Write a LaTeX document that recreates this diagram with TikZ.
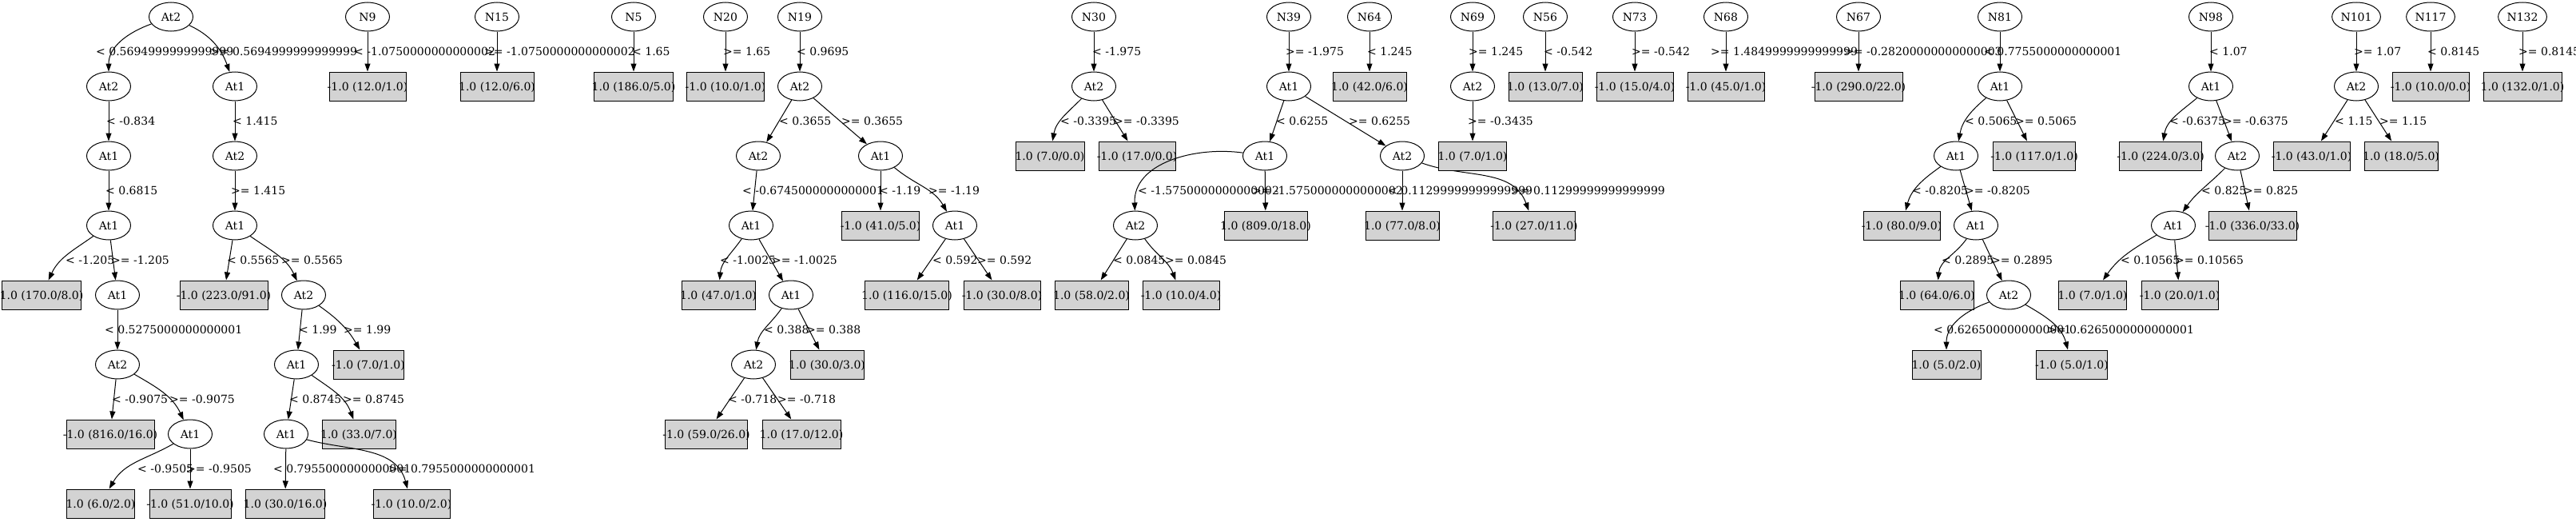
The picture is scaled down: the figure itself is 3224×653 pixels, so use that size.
\documentclass[tikz,border=0pt]{standalone}
\usepackage{fontspec}
\setmainfont{DejaVu Serif}
\usetikzlibrary{shapes.geometric,arrows.meta}
\definecolor{leafgray}{HTML}{D3D3D3}
\newcommand\leaftxt[1]{\makebox[0pt]{#1}}
\tikzset{
  ell/.style={ellipse, draw, line width=1pt, minimum width=55pt, minimum height=36pt, inner sep=2pt, text height=10pt, text depth=0pt},
  leaf/.style={rectangle, draw, line width=1pt, fill=leafgray, minimum width=#1, minimum height=36pt, inner sep=0pt, text height=10pt, text depth=0pt},
  lab/.style={anchor=west, inner sep=0pt, text height=10pt, text depth=0pt},
  conn/.style={line width=1pt, -{Triangle[length=10pt,width=7pt]}},
}
\begin{document}
\begin{tikzpicture}[x=1pt,y=-1pt,font=\fontsize{14}{16}\selectfont]
\useasboundingbox (0,0) rectangle (3224,653);
% ---------------- Tree 1
\node[ell] (a0) at (214,21) {At2};
\node[ell] (a1) at (136,108) {At2};
\node[ell] (a2) at (294,108) {At1};
\node[ell] (a3) at (136,195) {At1};
\node[ell] (a4) at (294,195) {At2};
\node[ell] (a5) at (136,282) {At1};
\node[ell] (a6) at (294,282) {At1};
\node[leaf=99pt] (l1) at (52,369) {\leaftxt{1.0 (170.0/8.0)}};
\node[ell] (a7) at (147,369) {At1};
\node[leaf=110pt] (l2) at (280,369) {\leaftxt{-1.0 (223.0/91.0)}};
\node[ell] (a8) at (380,369) {At2};
\node[ell] (a9) at (147,456) {At2};
\node[ell] (a10) at (371,456) {At1};
\node[leaf=88pt] (l3) at (461,456) {\leaftxt{-1.0 (7.0/1.0)}};
\node[leaf=110pt] (l4) at (138,543) {\leaftxt{-1.0 (816.0/16.0)}};
\node[ell] (a11) at (238,543) {At1};
\node[ell] (a12) at (358,543) {At1};
\node[leaf=92pt] (l5) at (449,543) {\leaftxt{1.0 (33.0/7.0)}};
\node[leaf=85pt] (l6) at (126,630) {\leaftxt{1.0 (6.0/2.0)}};
\node[leaf=102pt] (l7) at (238,630) {\leaftxt{-1.0 (51.0/10.0)}};
\node[leaf=99pt] (l8) at (357,630) {\leaftxt{1.0 (30.0/16.0)}};
\node[leaf=96pt] (l9) at (515,630) {\leaftxt{-1.0 (10.0/2.0)}};
\draw[conn] (a0) to[out=200,in=90] (a1);
\draw[conn] (a0) to[out=-25,in=110] (a2);
\draw[conn] (a1) -- (a3);
\draw[conn] (a2) -- (a4);
\draw[conn] (a3) -- (a5);
\draw[conn] (a4) -- (a6);
\draw[conn] (a5) to[out=215,in=65] (l1);
\draw[conn] (a5) -- (a7);
\draw[conn] (a6) -- (l2);
\draw[conn] (a6) to[out=-35,in=115] (a8);
\draw[conn] (a7) -- (a9);
\draw[conn] (a8) -- (a10);
\draw[conn] (a8) to[out=-35,in=120] (l3);
\draw[conn] (a9) -- (l4);
\draw[conn] (a9) to[out=-30,in=115] (a11);
\draw[conn] (a10) -- (a12);
\draw[conn] (a10) to[out=-35,in=110] (l5);
\draw[conn] (a11) to[out=210,in=60] (l6);
\draw[conn] (a11) -- (l7);
\draw[conn] (a12) -- (l8);
\draw[conn] (a12) to[out=-15,in=105] (l9);
% ---------------- single trees
\node[ell] (n9) at (460,21) {N9};
\node[leaf=96pt] (l10) at (460,108) {\leaftxt{-1.0 (12.0/1.0)}};
\node[ell] (n15) at (622,21) {N15};
\node[leaf=92pt] (l11) at (622,108) {\leaftxt{1.0 (12.0/6.0)}};
\node[ell] (n5) at (793,21) {N5};
\node[leaf=99pt] (l12) at (793,108) {\leaftxt{1.0 (186.0/5.0)}};
\node[ell] (n20) at (908,21) {N20};
\node[leaf=97pt] (l13) at (908,108) {\leaftxt{-1.0 (10.0/1.0)}};
\draw[conn] (n9) -- (l10);
\draw[conn] (n15) -- (l11);
\draw[conn] (n5) -- (l12);
\draw[conn] (n20) -- (l13);
% ---------------- Tree N19
\node[ell] (n19) at (1001,21) {N19};
\node[ell] (b1) at (1001,108) {At2};
\node[ell] (b2) at (949,195) {At2};
\node[ell] (b3) at (1102,195) {At1};
\node[ell] (b4) at (940,282) {At1};
\node[leaf=97pt] (l14) at (1102,282) {\leaftxt{-1.0 (41.0/5.0)}};
\node[ell] (b5) at (1195,282) {At1};
\node[leaf=92pt] (l15) at (899,369) {\leaftxt{1.0 (47.0/1.0)}};
\node[ell] (b6) at (990,369) {At1};
\node[leaf=105pt] (l16) at (1135,369) {\leaftxt{1.0 (116.0/15.0)}};
\node[leaf=96pt] (l17) at (1254,369) {\leaftxt{-1.0 (30.0/8.0)}};
\node[ell] (b7) at (943,456) {At2};
\node[leaf=92pt] (l18) at (1035,456) {\leaftxt{1.0 (30.0/3.0)}};
\node[leaf=103pt] (l19) at (884,543) {\leaftxt{-1.0 (59.0/26.0)}};
\node[leaf=98pt] (l20) at (1003,543) {\leaftxt{1.0 (17.0/12.0)}};
\draw[conn] (n19) -- (b1);
\draw[conn] (b1) -- (b2);
\draw[conn] (b1) -- (b3);
\draw[conn] (b2) -- (b4);
\draw[conn] (b3) -- (l14);
\draw[conn] (b3) to[out=-40,in=120] (b5);
\draw[conn] (b4) to[out=235,in=85] (l15);
\draw[conn] (b4) -- (b6);
\draw[conn] (b5) -- (l16);
\draw[conn] (b5) -- (l17);
\draw[conn] (b6) to[out=235,in=80] (b7);
\draw[conn] (b6) -- (l18);
\draw[conn] (b7) -- (l19);
\draw[conn] (b7) -- (l20);
% ---------------- Tree N30
\node[ell] (n30) at (1369,21) {N30};
\node[ell] (c1) at (1369,108) {At2};
\node[leaf=86pt] (l21) at (1314,195) {\leaftxt{1.0 (7.0/0.0)}};
\node[leaf=96pt] (l22) at (1423,195) {\leaftxt{-1.0 (17.0/0.0)}};
\draw[conn] (n30) -- (c1);
\draw[conn] (c1) to[out=225,in=80] (l21);
\draw[conn] (c1) -- (l22);
% ---------------- Tree N39
\node[ell] (n39) at (1613,21) {N39};
\node[ell] (d1) at (1613,108) {At1};
\node[ell] (d2) at (1583,195) {At1};
\node[ell] (d3) at (1755,195) {At2};
\node[ell] (d4) at (1421,282) {At2};
\node[leaf=104pt] (l23) at (1584,282) {\leaftxt{1.0 (809.0/18.0)}};
\node[leaf=92pt] (l24) at (1755,282) {\leaftxt{1.0 (77.0/8.0)}};
\node[leaf=103pt] (l25) at (1920,282) {\leaftxt{-1.0 (27.0/11.0)}};
\node[leaf=92pt] (l26) at (1366,369) {\leaftxt{1.0 (58.0/2.0)}};
\node[leaf=96pt] (l27) at (1478,369) {\leaftxt{-1.0 (10.0/4.0)}};
\draw[conn] (n39) -- (d1);
\draw[conn] (d1) -- (d2);
\draw[conn] (d1) -- (d3);
\draw[conn] (d2) to[out=172,in=92] (d4);
\draw[conn] (d2) -- (l23);
\draw[conn] (d3) -- (l24);
\draw[conn] (d3) to[out=-20,in=110] (l25);
\draw[conn] (d4) -- (l26);
\draw[conn] (d4) to[out=-55,in=110] (l27);
% ---------------- small trees
\node[ell] (n64) at (1714,21) {N64};
\node[leaf=92pt] (l28) at (1714,108) {\leaftxt{1.0 (42.0/6.0)}};
\node[ell] (n69) at (1843,21) {N69};
\node[ell] (e1) at (1843,108) {At2};
\node[leaf=85pt] (l29) at (1843,195) {\leaftxt{1.0 (7.0/1.0)}};
\node[ell] (n56) at (1934,21) {N56};
\node[leaf=92pt] (l30) at (1934,108) {\leaftxt{1.0 (13.0/7.0)}};
\node[ell] (n73) at (2046,21) {N73};
\node[leaf=96pt] (l31) at (2046,108) {\leaftxt{-1.0 (15.0/4.0)}};
\node[ell] (n68) at (2160,21) {N68};
\node[leaf=96pt] (l32) at (2160,108) {\leaftxt{-1.0 (45.0/1.0)}};
\node[ell] (n67) at (2326,21) {N67};
\node[leaf=110pt] (l33) at (2326,108) {\leaftxt{-1.0 (290.0/22.0)}};
\draw[conn] (n64) -- (l28);
\draw[conn] (n69) -- (e1);
\draw[conn] (e1) -- (l29);
\draw[conn] (n56) -- (l30);
\draw[conn] (n73) -- (l31);
\draw[conn] (n68) -- (l32);
\draw[conn] (n67) -- (l33);
% ---------------- Tree N81
\node[ell] (n81) at (2503,21) {N81};
\node[ell] (f1) at (2503,108) {At1};
\node[ell] (f2) at (2448,195) {At1};
\node[leaf=103pt] (l34) at (2546,195) {\leaftxt{-1.0 (117.0/1.0)}};
\node[leaf=96pt] (l35) at (2380,282) {\leaftxt{-1.0 (80.0/9.0)}};
\node[ell] (f3) at (2473,282) {At1};
\node[leaf=92pt] (l36) at (2424,369) {\leaftxt{1.0 (64.0/6.0)}};
\node[ell] (f4) at (2514,369) {At2};
\node[leaf=86pt] (l37) at (2436,456) {\leaftxt{1.0 (5.0/2.0)}};
\node[leaf=89pt] (l38) at (2593,456) {\leaftxt{-1.0 (5.0/1.0)}};
\draw[conn] (n81) -- (f1);
\draw[conn] (f1) to[out=220,in=80] (f2);
\draw[conn] (f1) -- (l34);
\draw[conn] (f2) to[out=215,in=75] (l35);
\draw[conn] (f2) -- (f3);
\draw[conn] (f3) to[out=235,in=85] (l36);
\draw[conn] (f3) -- (f4);
\draw[conn] (f4) to[out=200,in=90] (l37);
\draw[conn] (f4) to[out=-30,in=105] (l38);
% ---------------- Tree N98
\node[ell] (n98) at (2767,21) {N98};
\node[ell] (g1) at (2767,108) {At1};
\node[leaf=103pt] (l39) at (2704,195) {\leaftxt{-1.0 (224.0/3.0)}};
\node[ell] (g2) at (2800,195) {At2};
\node[ell] (g3) at (2720,282) {At1};
\node[leaf=110pt] (l40) at (2819,282) {\leaftxt{-1.0 (336.0/33.0)}};
\node[leaf=85pt] (l41) at (2619,369) {\leaftxt{1.0 (7.0/1.0)}};
\node[leaf=96pt] (l42) at (2728,369) {\leaftxt{-1.0 (20.0/1.0)}};
\draw[conn] (n98) -- (g1);
\draw[conn] (g1) to[out=220,in=80] (l39);
\draw[conn] (g1) -- (g2);
\draw[conn] (g2) to[out=225,in=55] (g3);
\draw[conn] (g2) -- (l40);
\draw[conn] (g3) to[out=210,in=55] (l41);
\draw[conn] (g3) -- (l42);
% ---------------- Tree N101 and singles
\node[ell] (n101) at (2949,21) {N101};
\node[ell] (h1) at (2949,108) {At2};
\node[leaf=96pt] (l43) at (2893,195) {\leaftxt{-1.0 (43.0/1.0)}};
\node[leaf=92pt] (l44) at (3005,195) {\leaftxt{1.0 (18.0/5.0)}};
\node[ell] (n117) at (3042,21) {N117};
\node[leaf=96pt] (l45) at (3042,108) {\leaftxt{-1.0 (10.0/0.0)}};
\node[ell] (n132) at (3157,21) {N132};
\node[leaf=98pt] (l46) at (3157,108) {\leaftxt{1.0 (132.0/1.0)}};
\draw[conn] (n101) -- (h1);
\draw[conn] (h1) -- (l43);
\draw[conn] (h1) -- (l44);
\draw[conn] (n117) -- (l45);
\draw[conn] (n132) -- (l46);
% ---------------- edge labels, row 0.5
\node[lab] (t1) at (120,64) {< 0.5694999999999999};
\node[lab] (t2) at (263,64) {>= 0.5694999999999999};
\node[lab] (t3) at (443,64) {< -1.0750000000000002};
\node[lab] (t4) at (606,64) {>= -1.0750000000000002};
\node[lab] (t5) at (791,64) {< 1.65};
\node[lab] (t6) at (905,64) {>= 1.65};
\node[lab] (t7) at (997,64) {< 0.9695};
\node[lab] (t8) at (1367,64) {< -1.975};
\node[lab] (t9) at (1609,64) {>= -1.975};
\node[lab] (t10) at (1711,64) {< 1.245};
\node[lab] (t11) at (1838,64) {>= 1.245};
\node[lab] (t12) at (1932,64) {< -0.542};
\node[lab] (t13) at (2042,64) {>= -0.542};
\node[lab] (t14) at (2141,64) {>= 1.4849999999999999};
\node[lab] (t15) at (2308,64) {>= -0.28200000000000003};
\node[lab] (t16) at (2483,64) {< 0.7755000000000001};
\node[lab] (t17) at (2765,64) {< 1.07};
\node[lab] (t18) at (2946,64) {>= 1.07};
\node[lab] (t19) at (3038,64) {< 0.8145};
\node[lab] (t20) at (3152,64) {>= 0.8145};
% row 1.5
\node[lab] (u1) at (133,151) {< -0.834};
\node[lab] (u2) at (291,151) {< 1.415};
\node[lab] (u3) at (975,151) {< 0.3655};
\node[lab] (u4) at (1053,151) {>= 0.3655};
\node[lab] (u5) at (1327,151) {< -0.3395};
\node[lab] (u6) at (1394,151) {>= -0.3395};
\node[lab] (u7) at (1597,151) {< 0.6255};
\node[lab] (u8) at (1688,151) {>= 0.6255};
\node[lab] (u9) at (1837,151) {>= -0.3435};
\node[lab] (u10) at (2459,151) {< 0.5065};
\node[lab] (u11) at (2522,151) {>= 0.5065};
\node[lab] (u12) at (2715,151) {< -0.6375};
\node[lab] (u13) at (2782,151) {>= -0.6375};
\node[lab] (u14) at (2922,151) {< 1.15};
\node[lab] (u15) at (2978,151) {>= 1.15};
% row 2.5
\node[lab] (v1) at (132,238) {< 0.6815};
\node[lab] (v2) at (289,238) {>= 1.415};
\node[lab] (v3) at (929,238) {< -0.6745000000000001};
\node[lab] (v4) at (1100,238) {< -1.19};
\node[lab] (v5) at (1162,238) {>= -1.19};
\node[lab] (v6) at (1424,238) {< -1.5750000000000002};
\node[lab] (v7) at (1567,238) {>= -1.5750000000000002};
\node[lab] (v8) at (1737,238) {< 0.11299999999999999};
\node[lab] (v9) at (1891,238) {>= 0.11299999999999999};
\node[lab] (v10) at (2393,238) {< -0.8205};
\node[lab] (v11) at (2459,238) {>= -0.8205};
\node[lab] (v12) at (2755,238) {< 0.825};
\node[lab] (v13) at (2808,238) {>= 0.825};
% row 3.5
\node[lab] (w1) at (82,325) {< -1.205};
\node[lab] (w2) at (139,325) {>= -1.205};
\node[lab] (w3) at (284,325) {< 0.5565};
\node[lab] (w4) at (352,325) {>= 0.5565};
\node[lab] (w5) at (901,325) {< -1.0025};
\node[lab] (w6) at (966,325) {>= -1.0025};
\node[lab] (w7) at (1167,325) {< 0.592};
\node[lab] (w8) at (1223,325) {>= 0.592};
\node[lab] (w9) at (1393,325) {< 0.0845};
\node[lab] (w10) at (1458,325) {>= 0.0845};
\node[lab] (w11) at (2430,325) {< 0.2895};
\node[lab] (w12) at (2492,325) {>= 0.2895};
\node[lab] (w13) at (2654,325) {< 0.10565};
\node[lab] (w14) at (2722,325) {>= 0.10565};
% row 4.5
\node[lab] (x1) at (131,412) {< 0.5275000000000001};
\node[lab] (x2) at (374,412) {< 1.99};
\node[lab] (x3) at (430,412) {>= 1.99};
\node[lab] (x4) at (956,412) {< 0.388};
\node[lab] (x5) at (1009,412) {>= 0.388};
\node[lab] (x6) at (2420,412) {< 0.6265000000000001};
\node[lab] (x7) at (2562,412) {>= 0.6265000000000001};
% row 5.5
\node[lab] (y1) at (140,499) {< -0.9075};
\node[lab] (y2) at (212,499) {>= -0.9075};
\node[lab] (y3) at (362,499) {< 0.8745};
\node[lab] (y4) at (429,499) {>= 0.8745};
\node[lab] (y5) at (911,499) {< -0.718};
\node[lab] (y6) at (973,499) {>= -0.718};
% row 6.5
\node[lab] (z1) at (172,586) {< -0.9505};
\node[lab] (z2) at (233,586) {>= -0.9505};
\node[lab] (z3) at (342,586) {< 0.7955000000000001};
\node[lab] (z4) at (486,586) {>= 0.7955000000000001};
\end{tikzpicture}
\end{document}
